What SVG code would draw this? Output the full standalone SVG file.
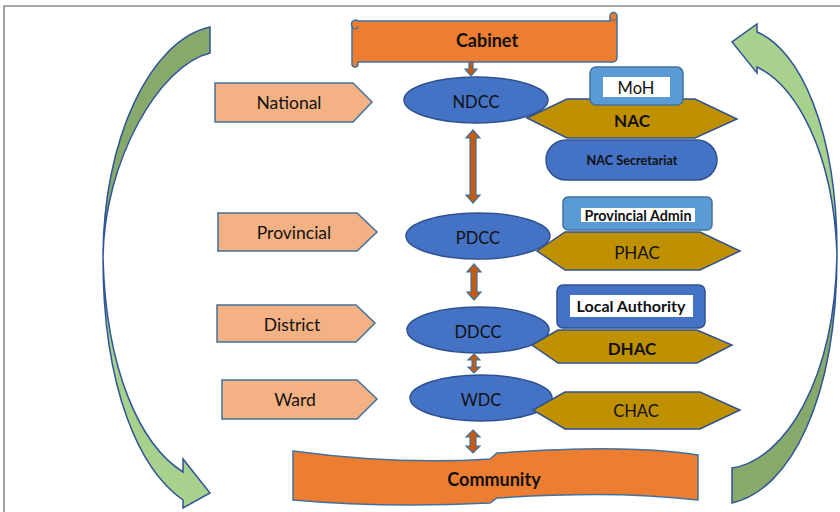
<svg xmlns="http://www.w3.org/2000/svg" width="840" height="512" viewBox="0 0 840 512">
  <defs>
    <style>
      text { font-family: Lato, "Liberation Sans", sans-serif; fill: #111; text-anchor: middle; dominant-baseline: central; }
      .b { font-weight: bold; }
      .level { fill: #F4B183; stroke: #41719C; stroke-width: 1.5; }
      .cc { fill: #4472C4; stroke: #2F528F; stroke-width: 1.5; }
      .hac { fill: #BF9000; stroke: #2F528F; stroke-width: 1.5; }
      .banner { fill: #ED7D31; stroke: #41719C; stroke-width: 1.5; }
      .link { fill: #C55A11; stroke: #41719C; stroke-width: 1.2; }
      .boxl { fill: #5B9BD5; stroke: #41719C; stroke-width: 1.5; }
      .boxd { fill: #4472C4; stroke: #2F528F; stroke-width: 1.5; }
      .inner { fill: #fff; }
      .dark { fill: #87A96B; stroke: #2F5597; stroke-width: 1.5; }
      .light { fill: #A9D18E; stroke: #2F5597; stroke-width: 1.5; }
    </style>
  </defs>

  <rect width="840" height="512" fill="#fff"/>
  <!-- page frame -->
  <path d="M4,512 V6 H840" fill="none" stroke="#8c8c8c" stroke-width="1.6"/>

  <!-- left curved arrow (downward) -->
  <g id="cycle-left">
    <path class="dark" d="M210,27 C150,40 103,140 103,258 C104,160 160,65 210,53 Z"/>
    <path class="light" d="M103,258 C103,390 140,470 183,500 L183,508 L210,493 L183,459 L183,472 C140,445 106,370 103,258 Z"/>
  </g>

  <!-- right curved arrow (upward) -->
  <g id="cycle-right">
    <path class="dark" d="M732,503 C790,490 837,400 837,253 C835,380 785,460 732,468 Z"/>
    <path class="light" d="M837,253 C837,130 800,50 757,32 L757,24 L732,42 L757,73 L757,67 C795,85 833,150 837,253 Z"/>
  </g>

  <!-- level tags -->
  <g id="national"><path class="level" d="M215,83 H353 L372,102 L353,122 H215 Z"/><text x="289" y="102" font-size="17.5">National</text></g>
  <g id="provincial"><path class="level" d="M218,213 H357 L377,232 L357,251 H218 Z"/><text x="294" y="232" font-size="17.5">Provincial</text></g>
  <g id="district"><path class="level" d="M217,305 H356 L375,323 L356,342 H217 Z"/><text x="292" y="324" font-size="17.5">District</text></g>
  <g id="ward"><path class="level" d="M222,380 H357 L377,399 L357,419 H222 Z"/><text x="295" y="399" font-size="17.5">Ward</text></g>

  <!-- Cabinet scroll -->
  <g id="cabinet">
    <path class="banner" d="M358,21 H610 V16 a3,3 0 0 1 7,0 V58 a4,4 0 0 1 -4,4 H358 V64 a3,3 0 0 1 -6,0 V26 a4,4 0 0 1 6,-5 Z"/>
    <path d="M352,26 a3,3 0 0 0 6,0 M610,20 h7" fill="none" stroke="#41719C" stroke-width="1.2"/>
    <text class="b" x="487" y="40" font-size="18">Cabinet</text>
  </g>

  <!-- Community wave banner -->
  <g id="community">
    <path class="banner" d="M293,451 C360,460 430,463 490,459 L497,453 C570,448 640,446 698,455 V500 C640,493 570,493 497,498 L490,503 C430,506 360,506 293,500 Z"/>
    <text class="b" x="494" y="479" font-size="18">Community</text>
  </g>

  <!-- coordination committees -->
  <g id="ndcc"><ellipse class="cc" cx="476" cy="100" rx="72" ry="23"/><text x="476" y="102" font-size="16.5">NDCC</text></g>
  <g id="pdcc"><ellipse class="cc" cx="478" cy="236" rx="72" ry="23"/><text x="478" y="238" font-size="16.5">PDCC</text></g>
  <g id="ddcc"><ellipse class="cc" cx="478" cy="330" rx="71" ry="23"/><text x="478" y="332" font-size="16.5">DDCC</text></g>
  <g id="wdc"><ellipse class="cc" cx="481" cy="398" rx="71" ry="23"/><text x="481" y="400" font-size="16.5">WDC</text></g>

  <!-- HIV/AIDS councils -->
  <g id="nac">
    <path class="hac" d="M527,118 L567,99 H695 L737,119 L695,138 H567 Z"/>
    <text class="b" x="632" y="120" font-size="17">NAC</text>
  </g>
  <g id="moh">
    <rect class="boxl" x="590" y="67" width="93" height="38" rx="6"/>
    <rect class="inner" x="603" y="77" width="67" height="20"/>
    <text x="636" y="88" font-size="16.5">MoH</text>
  </g>
  <g id="nac-secretariat">
    <rect class="cc" x="546" y="140" width="171" height="40" rx="20"/>
    <text class="b" x="632" y="160" font-size="12.7">NAC Secretariat</text>
  </g>

  <g id="phac">
    <path class="hac" d="M537,251 L565,232 H700 L740,251 L700,270 H565 Z"/>
    <text x="637" y="252" font-size="17">PHAC</text>
  </g>
  <g id="provincial-admin">
    <rect class="boxl" x="563" y="197" width="149" height="33" rx="5"/>
    <rect class="inner" x="581" y="208" width="114" height="14"/>
    <text class="b" x="638" y="215" font-size="14.3">Provincial Admin</text>
  </g>

  <g id="dhac">
    <path class="hac" d="M532,345 L558,330 H697 L732,345 L697,363 H558 Z"/>
    <text class="b" x="632" y="348" font-size="17">DHAC</text>
  </g>
  <g id="local-authority">
    <rect class="boxd" x="557" y="285" width="148" height="43" rx="6"/>
    <rect class="inner" x="570" y="295" width="123" height="22"/>
    <text class="b" x="631" y="305" font-size="16">Local Authority</text>
  </g>

  <g id="chac">
    <path class="hac" d="M533,410 L565,392 H700 L740,410 L700,429 H565 Z"/>
    <text x="636" y="411" font-size="16.5">CHAC</text>
  </g>

  <!-- connectors -->
  <g id="connectors">
    <path class="link" d="M469,62 H473 V69 H477 L471,76 L465,69 H469 Z"/>
    <path class="link" d="M473,130 L480,138 H476 V195 H480 L473,203 L466,195 H470 V138 H466 Z"/>
    <path class="link" d="M474,264 L481,272 H477 V292 H481 L474,300 L467,292 H471 V272 H467 Z"/>
    <path class="link" d="M474,354 L480,360 H476 V367 H480 L474,373 L468,367 H472 V360 H468 Z"/>
    <path class="link" d="M473,430 L480,437 H476 V446 H480 L473,453 L466,446 H470 V437 H466 Z"/>
  </g>
</svg>
